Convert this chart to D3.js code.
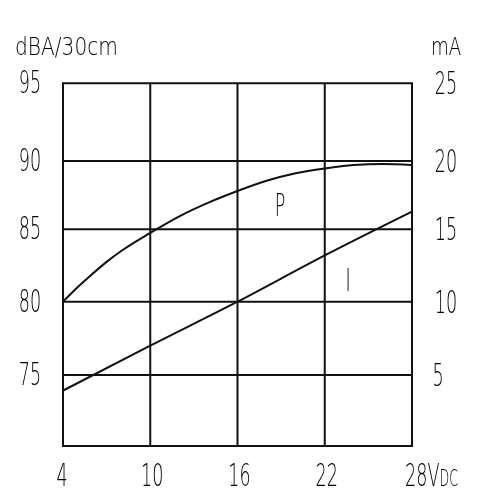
<!DOCTYPE html>
<html>
<head>
<meta charset="utf-8">
<script src="https://cdn.jsdelivr.net/npm/d3@7/dist/d3.min.js"></script>
<style>
  html, body { margin: 0; padding: 0; background: #fff; }
  svg { display: block; filter: grayscale(1); }
  .lbl { font-family: "DejaVu Sans", sans-serif; font-weight: 200; fill: #000; }
</style>
</head>
<body>
<svg id="chart" width="497" height="496"></svg>
<script>
  // voltage axis (Vdc)
  const xTicks = [4, 10, 16, 22, 28];
  const dbaTicks = [70, 75, 80, 85, 90, 95];
  const dbaLabels = [75, 80, 85, 90, 95];
  const maTicks = [0, 5, 10, 15, 20, 25];
  const maLabels = [5, 10, 15, 20, 25];

  // P curve: sound level, dBA/30cm
  const pVolts = [4, 5, 6, 7, 8, 10, 12, 14, 16, 18, 20, 22, 24, 26, 28];
  const pDba = [80.0, 81.0, 81.9, 82.75, 83.5, 84.75, 85.95, 86.95, 87.8, 88.55, 89.1, 89.45, 89.7, 89.78, 89.7];

  // I curve: current, mA
  const iVolts = [4, 10, 16, 22, 28];
  const iMa = [3.9, 7.0, 10.0, 13.2, 16.3];

  const svg = d3.select("#chart");
  const left = 63, right = 412;
  // the printed grid is not quite evenly spaced, so the y scales follow it
  const gridY = [446, 375, 301.7, 229.3, 161, 83.3];

  const x = d3.scaleLinear().domain([4, 28]).range([left, right]);
  const yL = d3.scaleLinear().domain(dbaTicks).range(gridY);
  const yR = d3.scaleLinear().domain(maTicks).range(gridY);

  const grid = svg.append("g").attr("stroke", "#111").attr("stroke-width", 2).attr("fill", "none");
  grid.selectAll("line.v").data(xTicks).join("line")
    .attr("class", "v")
    .attr("x1", (d) => x(d)).attr("x2", (d) => x(d))
    .attr("y1", yL(95)).attr("y2", yL(70));
  grid.selectAll("line.h").data(dbaTicks).join("line")
    .attr("class", "h")
    .attr("x1", left - 1).attr("x2", right + 1)
    .attr("y1", (d) => yL(d)).attr("y2", (d) => yL(d));

  const lineP = d3.line().x((d, i) => x(pVolts[i])).y((d) => yL(d)).curve(d3.curveMonotoneX);
  const lineI = d3.line().x((d, i) => x(iVolts[i])).y((d) => yR(d)).curve(d3.curveMonotoneX);

  svg.append("path").datum(pDba).attr("d", lineP)
    .attr("fill", "none").attr("stroke", "#111").attr("stroke-width", 2);
  svg.append("path").datum(iMa).attr("d", lineI)
    .attr("fill", "none").attr("stroke", "#111").attr("stroke-width", 2);

  function label(g, tx, ty, text, size, anchor, sx) {
    return g.append("text")
      .attr("class", "lbl")
      .attr("transform", `translate(${tx},${ty}) scale(${sx || 0.55},1)`)
      .attr("text-anchor", anchor || "middle")
      .attr("font-size", size)
      .text(text);
  }

  const labels = svg.append("g");
  dbaLabels.forEach((v) => label(labels, 30, yL(v) + 10, v, 32));
  maLabels.forEach((v) => label(labels, v < 10 ? 438 : 446, yR(v) + 11, v, 32));
  xTicks.forEach((v) => {
    if (v === 28) return;
    label(labels, v < 10 ? x(v) - 1 : x(v) + 2, 486, v, 32);
  });
  const last = label(labels, 405, 486, "28V", 32, "start");
  last.append("tspan").attr("font-size", 23).text("DC");

  label(labels, 15, 55, "dBA/30cm", 24, "start", 0.84);
  label(labels, 431, 55, "mA", 24, "start", 0.76);
  label(labels, 280, 216, "P", 32);
  label(labels, 348, 291, "I", 32);
</script>
</body>
</html>
